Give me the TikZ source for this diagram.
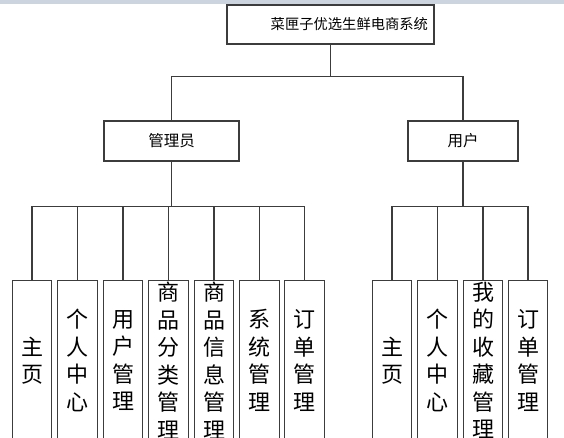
\documentclass[tikz,border=0pt]{standalone}
\usepackage{fontspec}
\newfontfamily\cjk{Noto Sans CJK SC}
\usepackage{tikz}
\definecolor{framegray}{RGB}{60,60,60}
\definecolor{stripblue}{RGB}{204,213,223}

\begin{document}
\begin{tikzpicture}[x=1pt, y=-1pt,
    box/.style={draw=framegray, line width=1.1pt, fill=white, inner sep=0pt},
    rootbox/.style={box, minimum width=207pt, minimum height=39pt, text width=195pt, align=right, font=\cjk\fontsize{14.3}{16}\selectfont},
    rolebox/.style={box, minimum height=40pt, font=\cjk\fontsize{15.5}{18}\selectfont},
    leafbox/.style={box, anchor=north, minimum width=39.5pt, minimum height=160pt, text width=24pt, align=center, font=\cjk\fontsize{22}{27.5}\selectfont},
    link/.style={draw=framegray, line width=1.1pt}]
    \useasboundingbox[fill=white] (0,0) rectangle (564,437);
    \fill[stripblue] (0,0) rectangle (564,4);

    % --- 1. 定義頂層節點：系統 ---
    \node[rootbox] (root) at (330.5,24.5) {菜匣子优选生鲜电商系统};

    % --- 2. 定義角色節點：管理员, 用户 ---
    \node[rolebox, minimum width=135pt] (admin) at (171.5,141) {管理员};
    \node[rolebox, minimum width=110pt] (user) at (463,141) {用户};

    % --- 3. 管理员的功能模塊 ---
    \node[leafbox] (a_home) at (32,280) {主\\页};
    \node[leafbox] (a_self) at (77.5,280) {个\\人\\中\\心};
    \node[leafbox] (a_user) at (123,280) {用\\户\\管\\理};
    \node[leafbox] (a_type) at (168.5,280) {商\\品\\分\\类\\管\\理};
    \node[leafbox] (a_good) at (214,280) {商\\品\\信\\息\\管\\理};
    \node[leafbox] (a_sys) at (259.5,280) {系\\统\\管\\理};
    \node[leafbox] (a_order) at (304.5,280) {订\\单\\管\\理};

    % --- 4. 用户的功能模塊 ---
    \node[leafbox] (u_home) at (392,280) {主\\页};
    \node[leafbox] (u_self) at (437.5,280) {个\\人\\中\\心};
    \node[leafbox] (u_fav) at (483,280) {我\\的\\收\\藏\\管\\理};
    \node[leafbox] (u_order) at (528,280) {订\\单\\管\\理};

    % --- 5. 繪製連線 ---
    \draw[link] (root.south) -- ++(0,32) -| (admin.north);
    \draw[link] (root.south) -- ++(0,32) -| (user.north);

    \draw[link] (admin.south) -- ++(0,45) -| (a_home.north);
    \draw[link] (admin.south) -- ++(0,45) -| (a_self.north);
    \draw[link] (admin.south) -- ++(0,45) -| (a_user.north);
    \draw[link] (admin.south) -- ++(0,45) -| (a_type.north);
    \draw[link] (admin.south) -- ++(0,45) -| (a_good.north);
    \draw[link] (admin.south) -- ++(0,45) -| (a_sys.north);
    \draw[link] (admin.south) -- ++(0,45) -| (a_order.north);

    \draw[link] (user.south) -- ++(0,45) -| (u_home.north);
    \draw[link] (user.south) -- ++(0,45) -| (u_self.north);
    \draw[link] (user.south) -- ++(0,45) -| (u_fav.north);
    \draw[link] (user.south) -- ++(0,45) -| (u_order.north);

\end{tikzpicture}
\end{document}
